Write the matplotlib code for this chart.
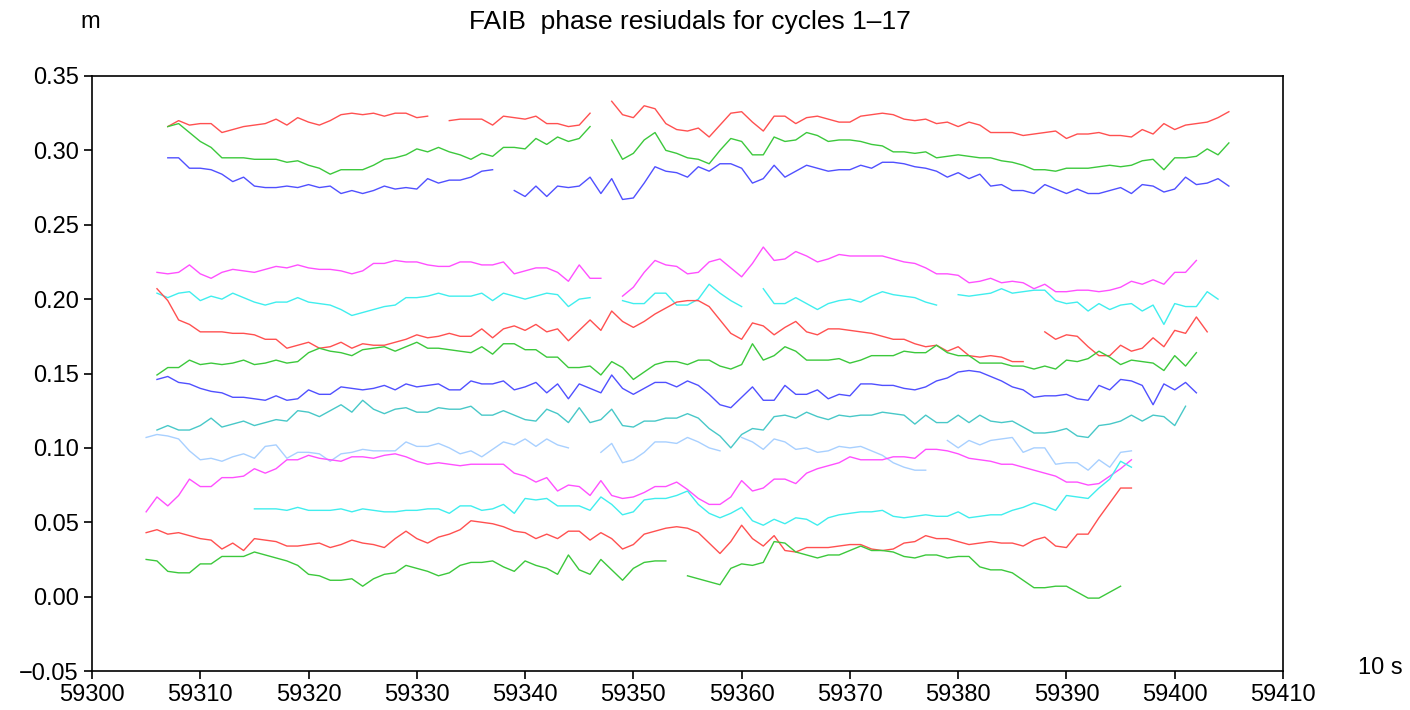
import numpy as np
import matplotlib.pyplot as plt
from matplotlib.ticker import MultipleLocator, FuncFormatter

plt.rcParams['font.family'] = ['Liberation Sans', 'DejaVu Sans']

# epochs in units of 10 s, one residual (m) per epoch
# every cycle is a list of (first epoch, values) for its unbroken pieces
red_top = [
    (59307, [0.316, 0.320, 0.317, 0.318, 0.318, 0.312, 0.314, 0.316, 0.317, 0.318, 0.321, 0.317, 0.322,
             0.319, 0.317, 0.320, 0.324, 0.325, 0.324, 0.325, 0.323, 0.325, 0.325, 0.322, 0.323]),
    (59333, [0.320, 0.321, 0.321, 0.321, 0.317, 0.323, 0.322, 0.321, 0.323, 0.318, 0.318, 0.316, 0.317, 0.325]),
    (59348, [0.333, 0.324, 0.322, 0.330, 0.328, 0.318, 0.314, 0.313, 0.315, 0.309,
             0.317, 0.325, 0.326, 0.319, 0.313, 0.323, 0.323, 0.318, 0.322, 0.323, 0.321, 0.319, 0.319, 0.323,
             0.324, 0.325, 0.324, 0.321, 0.320, 0.321, 0.318, 0.319, 0.316, 0.319, 0.317, 0.312, 0.312,
             0.312, 0.310, 0.311, 0.312, 0.313, 0.308, 0.311, 0.311, 0.312, 0.310, 0.310, 0.309, 0.314, 0.311,
             0.318, 0.314, 0.317, 0.318, 0.319, 0.322, 0.326]),
]
green_top = [
    (59307, [0.316, 0.318, 0.312, 0.306, 0.302, 0.295, 0.295, 0.295, 0.294, 0.294, 0.294, 0.292, 0.293,
             0.290, 0.288, 0.284, 0.287, 0.287, 0.287, 0.290, 0.294, 0.295, 0.297, 0.301, 0.299, 0.302,
             0.299, 0.297, 0.294, 0.298, 0.296, 0.302, 0.302, 0.301, 0.308, 0.304, 0.309, 0.306, 0.308, 0.316]),
    (59348, [0.307, 0.294, 0.298, 0.307, 0.312, 0.300, 0.298, 0.295, 0.294, 0.291,
             0.300, 0.308, 0.306, 0.297, 0.297, 0.309, 0.306, 0.307, 0.312, 0.310, 0.306, 0.307, 0.307, 0.306,
             0.304, 0.303, 0.299, 0.299, 0.298, 0.299, 0.295, 0.296, 0.297, 0.296, 0.295, 0.295, 0.293, 0.292,
             0.290, 0.287, 0.287, 0.286, 0.288, 0.288, 0.288, 0.289, 0.290, 0.289, 0.290, 0.293, 0.294, 0.287,
             0.295, 0.295, 0.296, 0.301, 0.297, 0.305]),
]
blue_top = [
    (59307, [0.295, 0.295, 0.288, 0.288, 0.287, 0.284, 0.279, 0.282, 0.276, 0.275, 0.275, 0.276, 0.275,
             0.277, 0.275, 0.276, 0.271, 0.273, 0.271, 0.273, 0.276, 0.274, 0.275, 0.274, 0.281, 0.278,
             0.280, 0.280, 0.282, 0.286, 0.287]),
    (59339, [0.273, 0.269, 0.276, 0.269, 0.276, 0.275, 0.276, 0.282, 0.271, 0.281, 0.267, 0.268, 0.278,
             0.289, 0.286, 0.285, 0.282, 0.289, 0.286, 0.291, 0.291,
             0.288, 0.278, 0.281, 0.290, 0.282, 0.286, 0.290, 0.288, 0.286, 0.287, 0.287, 0.290, 0.288,
             0.292, 0.292, 0.291, 0.289, 0.288, 0.286, 0.282, 0.285, 0.281, 0.284, 0.276, 0.277, 0.273,
             0.273, 0.271, 0.277, 0.274, 0.271, 0.274, 0.271, 0.271, 0.273, 0.275, 0.271, 0.277, 0.276,
             0.272, 0.274, 0.282, 0.277, 0.278, 0.281, 0.276]),
]
magenta_mid = [
    (59306, [0.218, 0.217, 0.218, 0.223, 0.217, 0.214, 0.218, 0.220, 0.219, 0.218, 0.220, 0.222, 0.221,
             0.223, 0.221, 0.220, 0.220, 0.219, 0.217, 0.219, 0.224, 0.224, 0.226, 0.225, 0.225, 0.223,
             0.222, 0.222, 0.225, 0.225, 0.223, 0.223, 0.225, 0.217, 0.219, 0.221, 0.221, 0.218, 0.212,
             0.223, 0.214, 0.214]),
    (59349, [0.202, 0.208, 0.218, 0.226, 0.223, 0.222, 0.217, 0.218, 0.225, 0.227, 0.221, 0.215, 0.224,
             0.235, 0.226, 0.227, 0.232, 0.229, 0.225, 0.227, 0.230, 0.229, 0.229, 0.229, 0.229, 0.227,
             0.225, 0.224, 0.221, 0.217, 0.217, 0.216, 0.211, 0.212, 0.214, 0.211, 0.212, 0.211, 0.207,
             0.210, 0.205, 0.205, 0.206, 0.206, 0.205, 0.206, 0.208, 0.212, 0.210, 0.213, 0.210, 0.218,
             0.218, 0.226]),
]
cyan_mid = [
    (59306, [0.204, 0.201, 0.204, 0.205, 0.199, 0.202, 0.200, 0.204, 0.201, 0.198, 0.196, 0.198, 0.198,
             0.201, 0.198, 0.197, 0.196, 0.193, 0.189, 0.191, 0.193, 0.195, 0.196, 0.201, 0.201, 0.202,
             0.204, 0.202, 0.202, 0.202, 0.204, 0.199, 0.204, 0.202, 0.200, 0.202, 0.204, 0.203, 0.195,
             0.200, 0.201]),
    (59349, [0.199, 0.197, 0.197, 0.204, 0.204, 0.196, 0.196, 0.200, 0.210, 0.204, 0.199, 0.195]),
    (59362, [0.207, 0.197, 0.197, 0.201, 0.197, 0.193, 0.197, 0.199, 0.200, 0.198, 0.202, 0.205, 0.203,
             0.202, 0.201, 0.198, 0.196]),
    (59380, [0.203, 0.202, 0.203, 0.204, 0.207, 0.204, 0.205, 0.206, 0.206, 0.199, 0.197, 0.198, 0.192,
             0.197, 0.193, 0.196, 0.197, 0.192, 0.196, 0.183, 0.197, 0.195, 0.195, 0.205, 0.200]),
]
red_mid = [
    (59306, [0.207, 0.199, 0.186, 0.183, 0.178, 0.178, 0.178, 0.177, 0.177, 0.176, 0.173, 0.173, 0.167,
             0.169, 0.171, 0.167, 0.168, 0.171, 0.167, 0.170, 0.169, 0.169, 0.171, 0.173, 0.176, 0.174,
             0.175, 0.177, 0.175, 0.175, 0.180, 0.174, 0.180, 0.182, 0.179, 0.183, 0.178, 0.180, 0.172,
             0.179, 0.186, 0.179, 0.192, 0.185, 0.181, 0.185, 0.190, 0.194, 0.198, 0.199, 0.199, 0.195,
             0.186, 0.177, 0.173, 0.184, 0.182, 0.176, 0.181, 0.185, 0.178, 0.176, 0.180, 0.180, 0.179,
             0.178, 0.177, 0.175, 0.173, 0.173, 0.170, 0.168, 0.169, 0.165, 0.168, 0.162, 0.161, 0.162,
             0.161, 0.158, 0.158]),
    (59388, [0.178, 0.173, 0.176, 0.175, 0.168, 0.162, 0.162, 0.169, 0.165, 0.167, 0.174, 0.168, 0.179,
             0.177, 0.188, 0.178]),
]
green_mid = [
    (59306, [0.149, 0.154, 0.154, 0.159, 0.156, 0.157, 0.156, 0.157, 0.159, 0.156, 0.157, 0.159, 0.157,
             0.158, 0.164, 0.167, 0.165, 0.164, 0.162, 0.166, 0.167, 0.168, 0.165, 0.168, 0.171, 0.167,
             0.167, 0.166, 0.165, 0.164, 0.168, 0.163, 0.170, 0.170, 0.166, 0.166, 0.161, 0.161, 0.154,
             0.154, 0.155, 0.149, 0.158, 0.154, 0.146, 0.151, 0.156, 0.158, 0.158, 0.156, 0.159, 0.159,
             0.155, 0.153, 0.156, 0.170, 0.159, 0.162, 0.168, 0.165, 0.159, 0.159, 0.159, 0.160, 0.157,
             0.159, 0.162, 0.162, 0.162, 0.165, 0.164, 0.164, 0.169, 0.164, 0.162, 0.162, 0.157, 0.157,
             0.157, 0.155, 0.155, 0.153, 0.155, 0.153, 0.159, 0.158, 0.160, 0.165, 0.161, 0.156, 0.159,
             0.158, 0.157, 0.152, 0.162, 0.155, 0.164]),
]
blue_mid = [
    (59306, [0.146, 0.148, 0.144, 0.143, 0.140, 0.138, 0.137, 0.134, 0.134, 0.133, 0.132, 0.135, 0.132,
             0.133, 0.139, 0.136, 0.136, 0.141, 0.140, 0.139, 0.140, 0.142, 0.139, 0.143, 0.141, 0.142,
             0.143, 0.139, 0.139, 0.145, 0.143, 0.143, 0.145, 0.139, 0.141, 0.144, 0.137, 0.143, 0.133,
             0.143, 0.140, 0.137, 0.149, 0.140, 0.136, 0.140, 0.144, 0.144, 0.141, 0.145, 0.142, 0.136,
             0.129, 0.127, 0.134, 0.141, 0.132, 0.132, 0.142, 0.136, 0.136, 0.139, 0.133, 0.136, 0.135,
             0.143, 0.143, 0.142, 0.142, 0.140, 0.139, 0.141, 0.145, 0.147, 0.151, 0.152, 0.151, 0.148,
             0.145, 0.141, 0.139, 0.134, 0.135, 0.135, 0.136, 0.133, 0.132, 0.142, 0.139, 0.146, 0.145,
             0.142, 0.129, 0.143, 0.139, 0.144, 0.137]),
]
teal_mid = [
    (59306, [0.112, 0.115, 0.112, 0.112, 0.115, 0.120, 0.114, 0.116, 0.118, 0.115, 0.117, 0.119, 0.118,
             0.125, 0.124, 0.121, 0.125, 0.129, 0.124, 0.132, 0.126, 0.123, 0.126, 0.127, 0.124, 0.124,
             0.127, 0.126, 0.126, 0.128, 0.122, 0.122, 0.125, 0.122, 0.119, 0.118, 0.126, 0.123, 0.117,
             0.127, 0.117, 0.119, 0.126, 0.115, 0.114, 0.118, 0.118, 0.120, 0.120, 0.123, 0.120, 0.113,
             0.108, 0.100, 0.109, 0.113, 0.112, 0.121, 0.122, 0.120, 0.124, 0.121, 0.119, 0.122, 0.121,
             0.122, 0.122, 0.124, 0.123, 0.122, 0.116, 0.122, 0.117, 0.117, 0.122, 0.117, 0.122, 0.118,
             0.117, 0.118, 0.114, 0.110, 0.110, 0.111, 0.113, 0.108, 0.107, 0.115, 0.116, 0.118, 0.122,
             0.118, 0.122, 0.121, 0.115, 0.128]),
]
lightblue_mid = [
    (59305, [0.107, 0.109, 0.108, 0.106, 0.098, 0.092, 0.093, 0.091, 0.094, 0.096, 0.093, 0.101, 0.102,
             0.093, 0.097, 0.097, 0.096, 0.091, 0.096, 0.097, 0.099, 0.098, 0.098, 0.098, 0.104, 0.101,
             0.101, 0.103, 0.100, 0.096, 0.098, 0.094, 0.099, 0.104, 0.102, 0.106, 0.101, 0.106, 0.102,
             0.100]),
    (59347, [0.097, 0.103, 0.090, 0.092, 0.097, 0.104, 0.104, 0.103, 0.107, 0.104, 0.100, 0.098]),
    (59360, [0.107, 0.104, 0.099, 0.106, 0.104, 0.099, 0.100, 0.097, 0.098, 0.101, 0.100, 0.101, 0.098,
             0.095, 0.090, 0.087, 0.085, 0.085]),
    (59379, [0.105, 0.100, 0.105, 0.102, 0.105, 0.106, 0.107, 0.097, 0.100, 0.100, 0.089, 0.090, 0.090,
             0.085, 0.092, 0.087, 0.097, 0.098]),
]
magenta_low = [
    (59305, [0.057, 0.067, 0.061, 0.068, 0.079, 0.074, 0.074, 0.080, 0.080, 0.081, 0.086, 0.083, 0.086,
             0.092, 0.092, 0.095, 0.093, 0.092, 0.091, 0.094, 0.094, 0.093, 0.095, 0.096, 0.094, 0.091,
             0.089, 0.090, 0.089, 0.088, 0.089, 0.089, 0.089, 0.089, 0.083, 0.081, 0.077, 0.080, 0.071,
             0.075, 0.074, 0.068, 0.078, 0.068, 0.066, 0.067, 0.070, 0.074, 0.074, 0.077, 0.072, 0.066,
             0.062, 0.062, 0.067, 0.078, 0.071, 0.073, 0.079, 0.079, 0.076, 0.083, 0.086, 0.088, 0.090,
             0.094, 0.092, 0.092, 0.092, 0.094, 0.094, 0.093, 0.099, 0.099, 0.098, 0.096, 0.093, 0.092,
             0.091, 0.089, 0.089, 0.087, 0.085, 0.083, 0.081, 0.077, 0.077, 0.075, 0.076, 0.081, 0.086,
             0.092]),
]
cyan_low = [
    (59315, [0.059, 0.059, 0.059, 0.058, 0.060, 0.058, 0.058, 0.058, 0.059, 0.057, 0.059, 0.058, 0.057,
             0.057, 0.058, 0.058, 0.059, 0.059, 0.056, 0.061, 0.061, 0.058, 0.059, 0.062, 0.056, 0.066,
             0.065, 0.066, 0.061, 0.061, 0.061, 0.058, 0.067, 0.062, 0.055, 0.057, 0.065, 0.066, 0.066,
             0.068, 0.071, 0.062, 0.056, 0.053, 0.056, 0.060, 0.051, 0.048, 0.052, 0.049, 0.053, 0.052,
             0.048, 0.053, 0.055, 0.056, 0.057, 0.057, 0.058, 0.054, 0.053, 0.054, 0.055, 0.054, 0.054,
             0.057, 0.053, 0.054, 0.055, 0.055, 0.058, 0.060, 0.063, 0.061, 0.058, 0.068, 0.067, 0.066,
             0.073, 0.079, 0.091, 0.087]),
]
red_low = [
    (59305, [0.043, 0.045, 0.042, 0.043, 0.041, 0.039, 0.038, 0.032, 0.036, 0.031, 0.039, 0.038, 0.037,
             0.034, 0.034, 0.035, 0.036, 0.033, 0.035, 0.038, 0.036, 0.035, 0.033, 0.039, 0.044, 0.039,
             0.036, 0.040, 0.042, 0.045, 0.051, 0.050, 0.049, 0.047, 0.044, 0.043, 0.039, 0.042, 0.039,
             0.044, 0.044, 0.038, 0.043, 0.039, 0.032, 0.035, 0.042, 0.044, 0.046, 0.047, 0.046, 0.043,
             0.036, 0.029, 0.037, 0.048, 0.039, 0.034, 0.041, 0.031, 0.030, 0.033, 0.033, 0.033, 0.034,
             0.035, 0.035, 0.032, 0.031, 0.032, 0.036, 0.037, 0.041, 0.039, 0.039, 0.037, 0.035, 0.036,
             0.037, 0.036, 0.036, 0.034, 0.038, 0.040, 0.034, 0.033, 0.042, 0.042, 0.053, 0.063, 0.073,
             0.073]),
]
green_low = [
    (59305, [0.025, 0.024, 0.017, 0.016, 0.016, 0.022, 0.022, 0.027, 0.027, 0.027, 0.030, 0.028, 0.026,
             0.024, 0.021, 0.015, 0.014, 0.011, 0.011, 0.012, 0.007, 0.012, 0.015, 0.016, 0.021, 0.019,
             0.017, 0.014, 0.016, 0.021, 0.023, 0.023, 0.024, 0.020, 0.017, 0.024, 0.021, 0.019, 0.015,
             0.028, 0.018, 0.015, 0.025, 0.018, 0.011, 0.019, 0.023, 0.024, 0.024]),
    (59355, [0.014, 0.012, 0.010, 0.008, 0.019, 0.022, 0.021, 0.023, 0.037, 0.036, 0.030, 0.028, 0.026,
             0.028, 0.028, 0.031, 0.034, 0.031, 0.031, 0.030, 0.027, 0.026, 0.028, 0.028, 0.026, 0.027,
             0.027, 0.020, 0.018, 0.018, 0.016, 0.011, 0.006, 0.006, 0.007, 0.007, 0.003, -0.001, -0.001,
             0.003, 0.007]),
]

RED, GREEN, BLUE = '#ff5050', '#3cc83c', '#5050ff'
MAGENTA, CYAN, TEAL, LIGHTBLUE = '#ff50ff', '#40eeee', '#48c8c8', '#a8d0ff'

cycles = [
    (red_top, RED), (green_top, GREEN), (blue_top, BLUE),
    (magenta_mid, MAGENTA), (cyan_mid, CYAN), (red_mid, RED), (green_mid, GREEN),
    (blue_mid, BLUE), (teal_mid, TEAL), (lightblue_mid, LIGHTBLUE), (magenta_low, MAGENTA),
    (cyan_low, CYAN), (red_low, RED), (green_low, GREEN),
]


def main():
    fig = plt.figure(figsize=(14.1, 7.1), dpi=100)
    ax = fig.add_axes([92 / 1410, 39 / 710, 1191 / 1410, 595 / 710])

    for pieces, color in cycles:
        for t0, vals in pieces:
            t = np.arange(t0, t0 + len(vals))
            ax.plot(t, vals, color=color, lw=1.0)

    ax.set_xlim(59300, 59410)
    ax.set_ylim(-0.05, 0.35)
    ax.xaxis.set_major_locator(MultipleLocator(10))
    ax.yaxis.set_major_locator(MultipleLocator(0.05))
    ax.xaxis.set_major_formatter(FuncFormatter(lambda v, p: f"{v:.0f}"))
    ax.yaxis.set_major_formatter(FuncFormatter(lambda v, p: f"{v:.2f}".replace('-', '\u2212')))
    ax.tick_params(labelsize=17, direction='out', length=6, width=1.2)
    for s in ax.spines.values():
        s.set_linewidth(1.2)

    fig.text(90 / 1410, 1 - 22 / 710, 'm', ha='center', va='center', fontsize=17)
    fig.text(690 / 1410, 1 - 22 / 710, 'FAIB  phase resiudals for cycles 1\u201317',
             ha='center', va='center', fontsize=19)
    fig.text(1380 / 1410, 1 - 668 / 710, '10 s', ha='center', va='center', fontsize=17)

    fig.savefig('out.png', dpi=100)
    plt.close(fig)


if __name__ == '__main__':
    main()
